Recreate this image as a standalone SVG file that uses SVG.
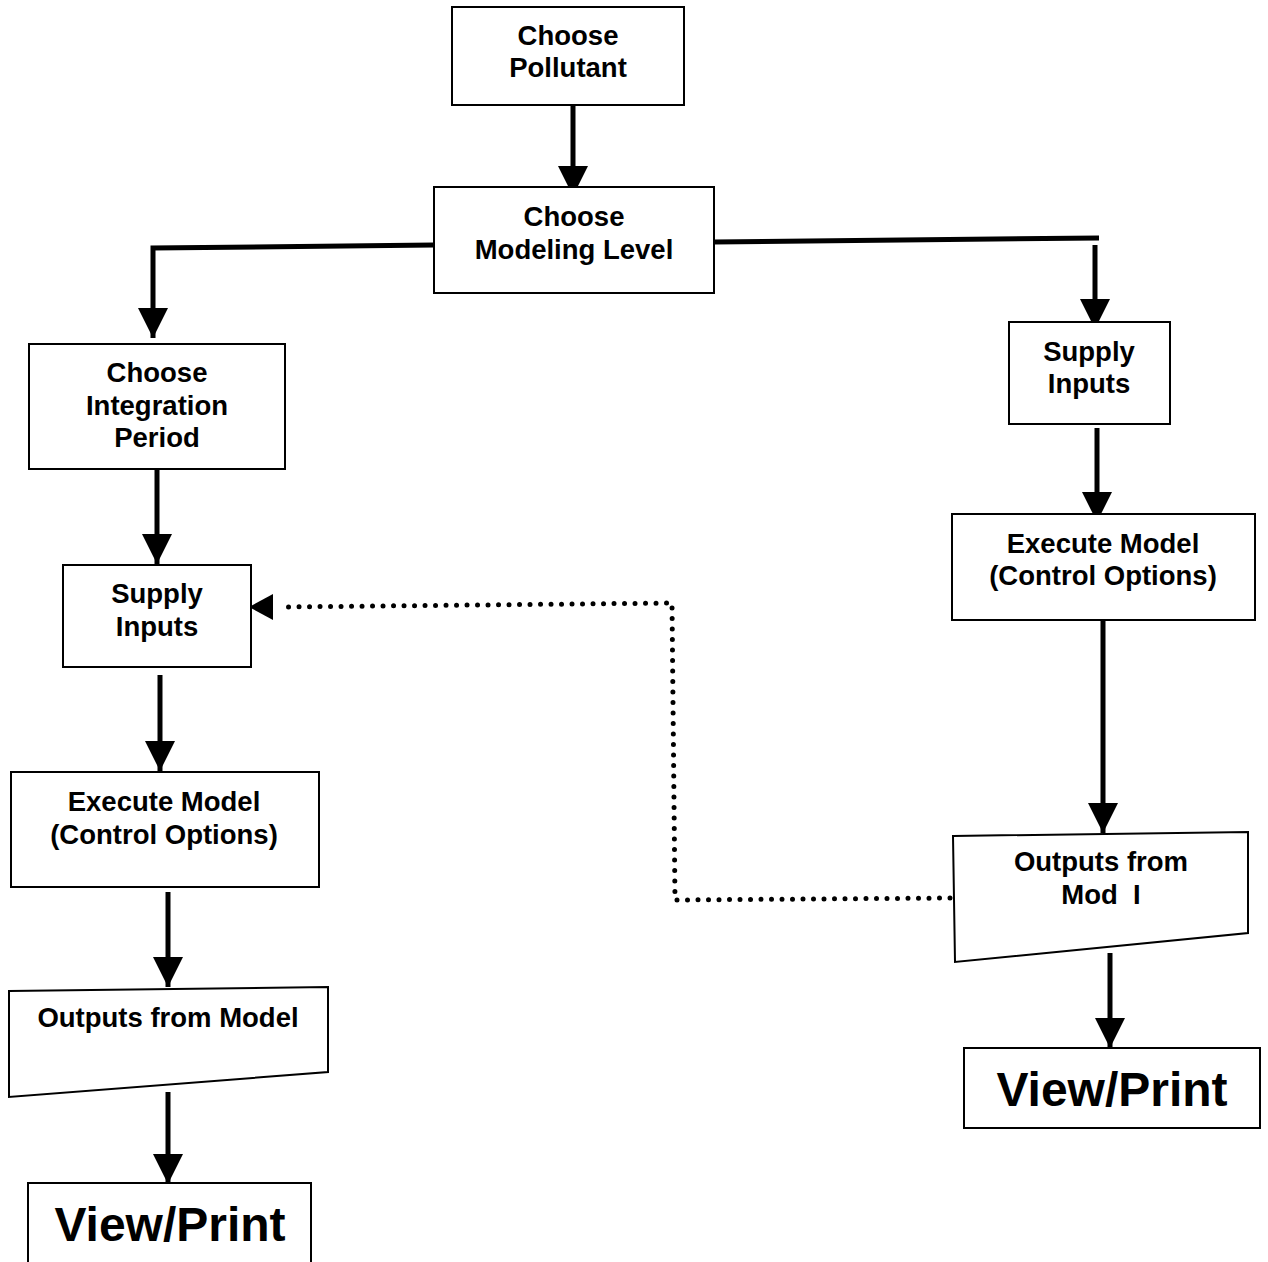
<svg xmlns="http://www.w3.org/2000/svg" width="1268" height="1262" viewBox="0 0 1268 1262">
<defs>
<style>
.box{fill:#fff;stroke:#000;stroke-width:2}
.t{font-family:"Liberation Sans",Arial,sans-serif;font-weight:bold;font-size:27.5px;text-anchor:middle;fill:#000}
.big{font-size:48px}
.c{fill:none;stroke:#000;stroke-width:5}
.d{fill:none;stroke:#000;stroke-width:5;stroke-linecap:round;stroke-dasharray:0 10.5}
</style>
<marker id="ah" markerUnits="userSpaceOnUse" markerWidth="32" markerHeight="30" viewBox="0 0 32 30" refX="30" refY="15" orient="auto">
<path d="M0,0 L30,15 L0,30 Z" fill="#000"/>
</marker>
</defs>
<rect width="1268" height="1262" fill="#fff"/>
<g id="connectors">
<line class="c" x1="573" y1="105" x2="573" y2="196" marker-end="url(#ah)"/>
<polyline class="c" points="434,245 153,248 153,338" marker-end="url(#ah)"/>
<line class="c" x1="714" y1="242" x2="1099" y2="238"/>
<line class="c" x1="1095" y1="245" x2="1095" y2="329" marker-end="url(#ah)"/>
<line class="c" x1="157" y1="469" x2="157" y2="564" marker-end="url(#ah)"/>
<line class="c" x1="160" y1="675" x2="160" y2="771" marker-end="url(#ah)"/>
<line class="c" x1="168" y1="892" x2="168" y2="987" marker-end="url(#ah)"/>
<line class="c" x1="168" y1="1092" x2="168" y2="1184" marker-end="url(#ah)"/>
<line class="c" x1="1097" y1="428" x2="1097" y2="522" marker-end="url(#ah)"/>
<line class="c" x1="1103" y1="618" x2="1103" y2="833" marker-end="url(#ah)"/>
<line class="c" x1="1110" y1="953" x2="1110" y2="1048" marker-end="url(#ah)"/>
<polyline class="d" points="950,898 675,900 672,603 280,607"/>
<path d="M249,607 L273,594 L273,620 Z" fill="#000"/>
</g>
<g id="n1"><rect class="box" x="452" y="7" width="232" height="98"/>
<text class="t" x="568" y="45">Choose</text><text class="t" x="568" y="77">Pollutant</text></g>
<g id="n2"><rect class="box" x="434" y="187" width="280" height="106"/>
<text class="t" x="574" y="226">Choose</text><text class="t" x="574" y="259">Modeling Level</text></g>
<g id="n3"><rect class="box" x="29" y="344" width="256" height="125"/>
<text class="t" x="157" y="382">Choose</text><text class="t" x="157" y="415">Integration</text><text class="t" x="157" y="447">Period</text></g>
<g id="n4"><rect class="box" x="63" y="565" width="188" height="102"/>
<text class="t" x="157" y="603">Supply</text><text class="t" x="157" y="636">Inputs</text></g>
<g id="n5"><rect class="box" x="11" y="772" width="308" height="115"/>
<text class="t" x="164" y="811">Execute Model</text><text class="t" x="164" y="844">(Control Options)</text></g>
<g id="n6"><polygon class="box" points="9,991 328,987 328,1072 9,1097"/>
<text class="t" x="168" y="1027">Outputs from Model</text></g>
<g id="n7"><rect class="box" x="28" y="1183" width="283" height="85"/>
<text class="t big" x="170" y="1241">View/Print</text></g>
<g id="n8"><rect class="box" x="1009" y="322" width="161" height="102"/>
<text class="t" x="1089" y="361">Supply</text><text class="t" x="1089" y="393">Inputs</text></g>
<g id="n9"><rect class="box" x="952" y="514" width="303" height="106"/>
<text class="t" x="1103" y="553">Execute Model</text><text class="t" x="1103" y="585">(Control Options)</text></g>
<g id="n10"><polygon class="box" points="953,836 1248,832 1248,933 955,962"/>
<text class="t" x="1101" y="871">Outputs from</text><text class="t" x="1101" y="904" xml:space="preserve">Mod  I</text></g>
<g id="n11"><rect class="box" x="964" y="1048" width="296" height="80"/>
<text class="t big" x="1112" y="1106">View/Print</text></g>
</svg>
